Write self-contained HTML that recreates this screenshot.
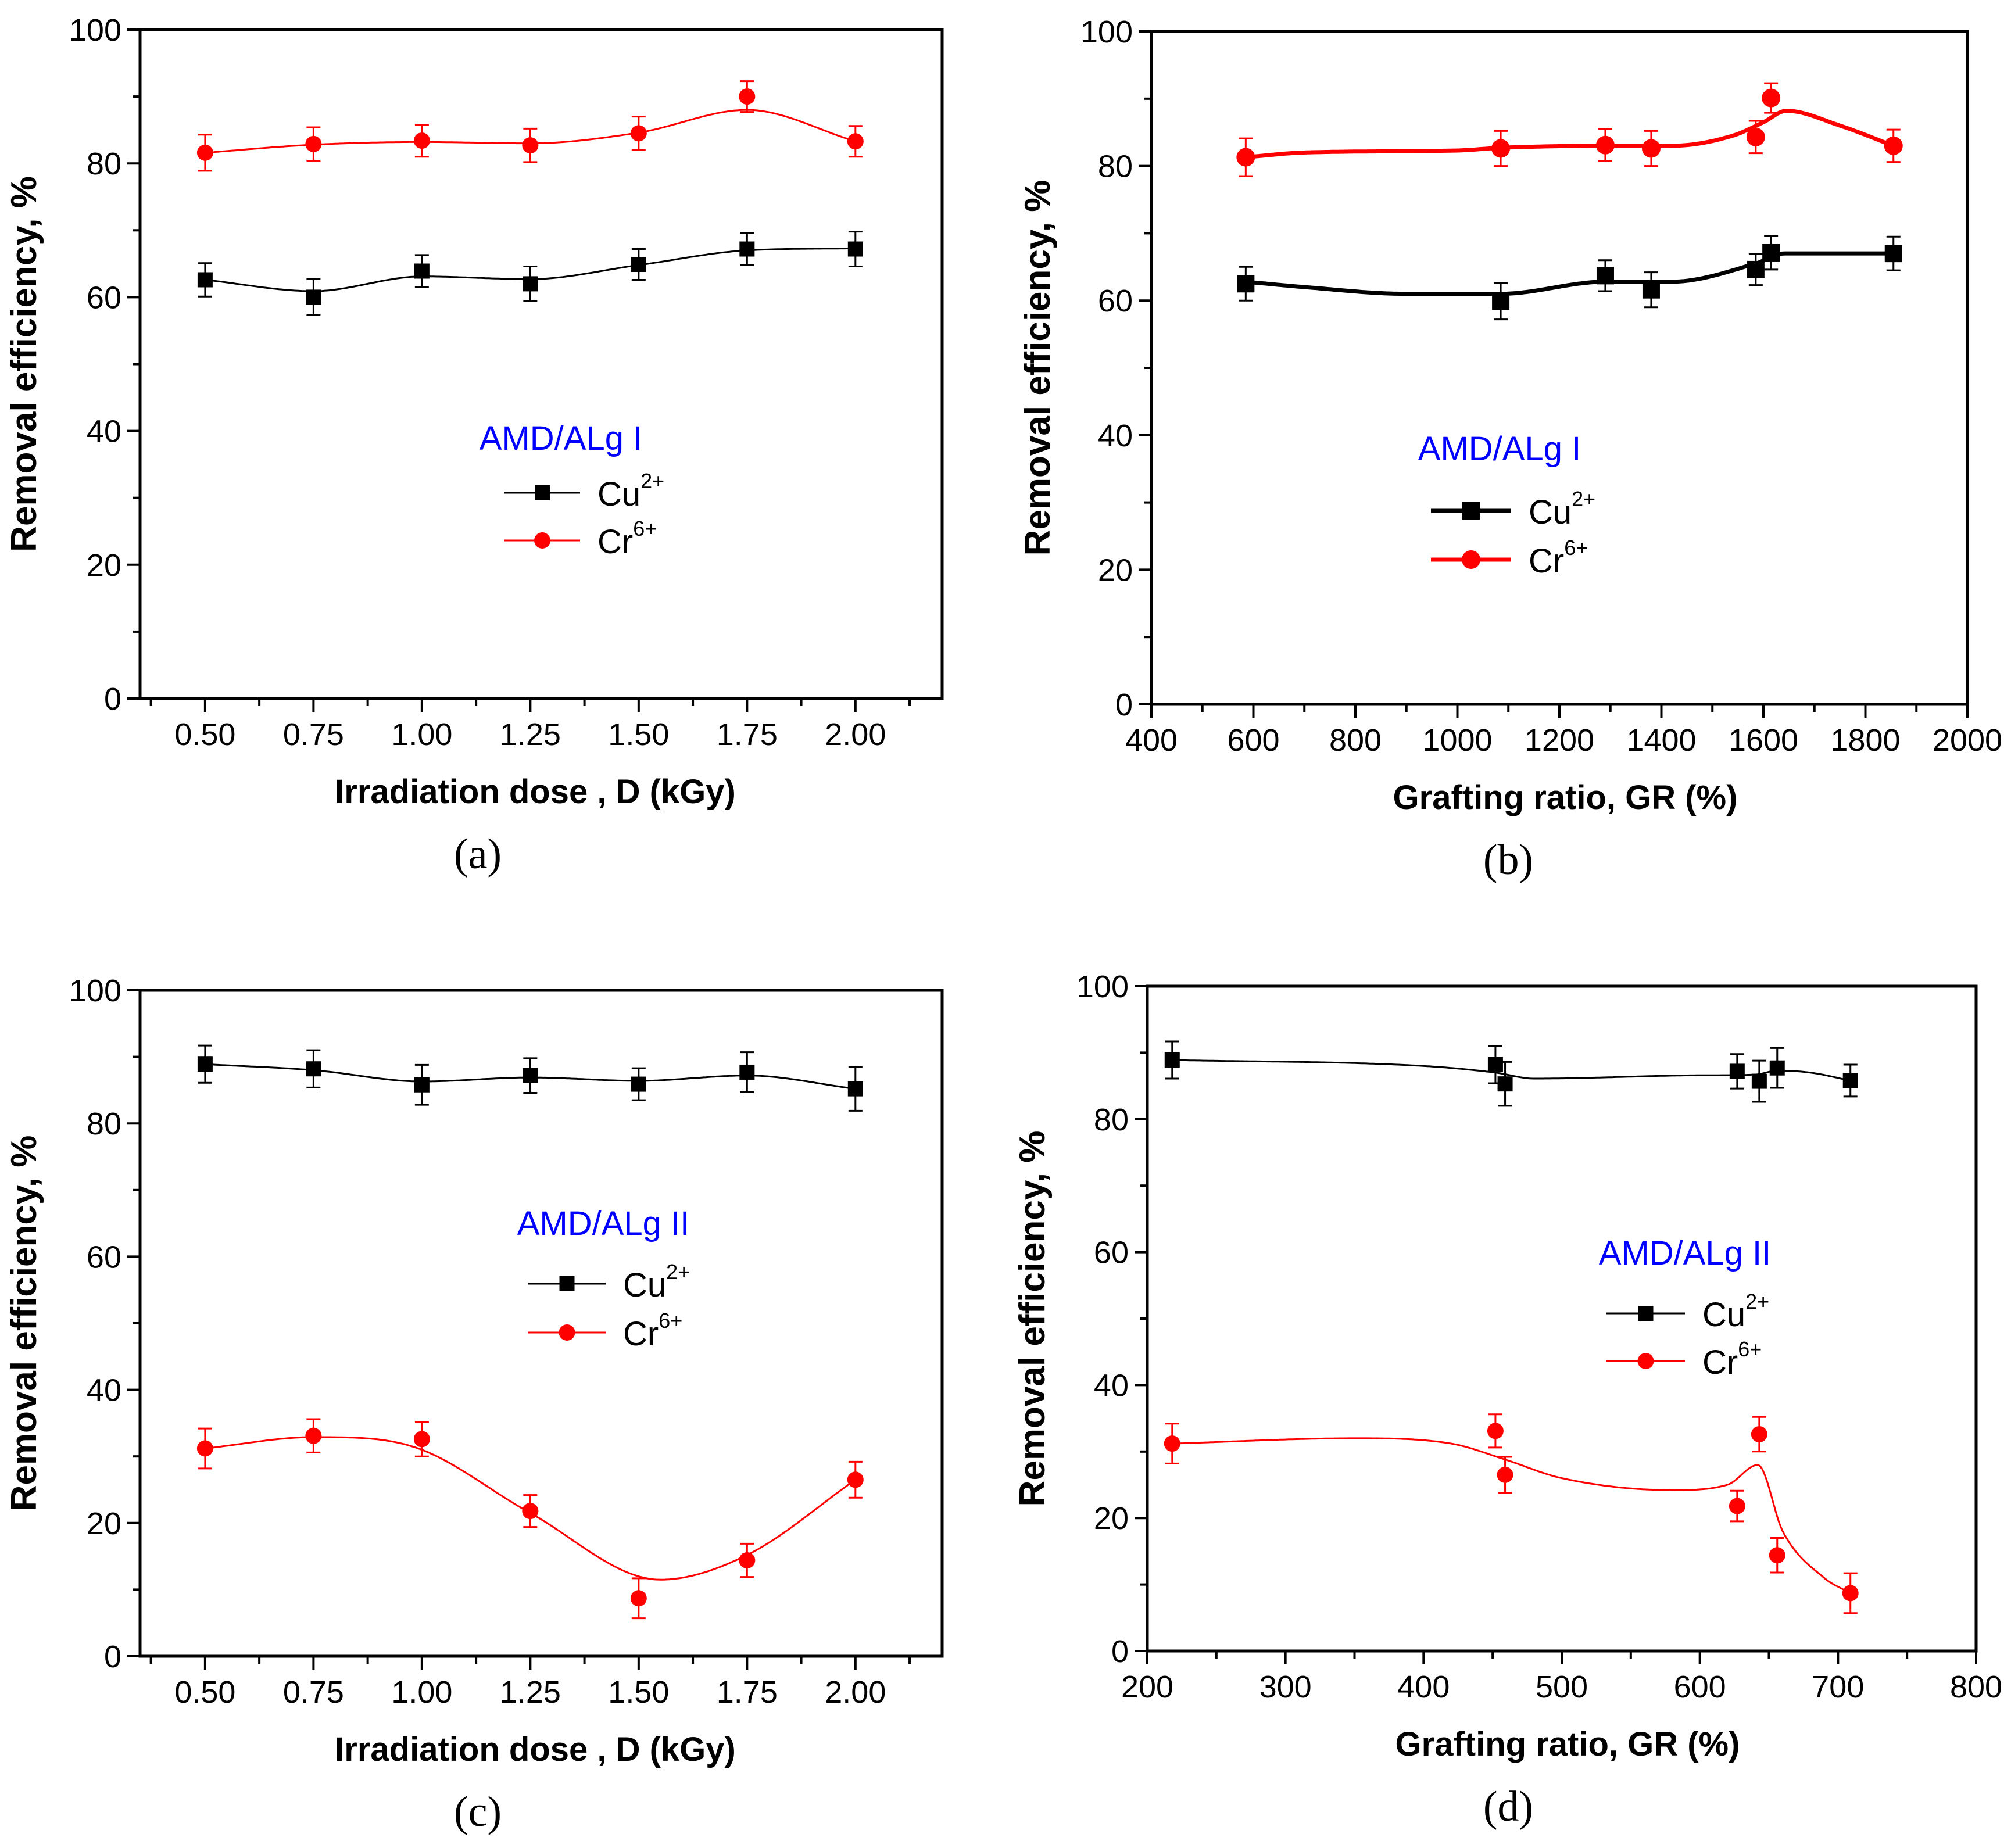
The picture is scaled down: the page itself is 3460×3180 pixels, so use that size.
<!DOCTYPE html>
<html><head><meta charset="utf-8"><style>
html,body{margin:0;padding:0;background:#fff;}
svg{display:block;}
text{font-family:"Liberation Sans",sans-serif;}
</style></head><body>
<svg id="fig" width="3460" height="3180" viewBox="0 0 3460 3180" xmlns="http://www.w3.org/2000/svg"></svg>
<script>
// ---- data: panel a (irradiation dose, AMD/ALg I)
const aX = [0.5,0.75,1.0,1.25,1.5,1.75,2.0];
const aCu = [62.6,60.0,63.9,62.0,64.9,67.2,67.2];
const aCuErr = [2.5,2.7,2.4,2.6,2.3,2.4,2.6];
const aCr = [81.6,82.9,83.4,82.7,84.5,90.0,83.3];
const aCrErr = [2.7,2.5,2.4,2.5,2.5,2.3,2.3];
const aCuFitX = [0.5,0.75,1.0,1.25,1.5,1.75,2.0];
const aCuFit = [62.6,60.9,63.1,62.7,64.8,67.0,67.3];
const aCrFitX = [0.5,0.75,1.0,1.25,1.5,1.75,2.0];
const aCrFit = [81.6,82.8,83.2,83.0,84.6,88.0,83.3];
const aXTicks = ["0.50","0.75","1.00","1.25","1.50","1.75","2.00"];
// ---- panel b (grafting ratio, AMD/ALg I)
const bX = [585,1085,1290,1380,1585,1615,1855];
const bCu = [62.5,59.9,63.7,61.6,64.6,67.1,67.0];
const bCuErr = [2.5,2.7,2.3,2.6,2.3,2.5,2.5];
const bCr = [81.3,82.6,83.1,82.6,84.3,90.1,83.0];
const bCrErr = [2.8,2.6,2.4,2.6,2.4,2.2,2.4];
const bCuFitX = [585,700,900,1085,1290,1420,1585,1640,1855];
const bCuFit = [62.8,62.0,61.0,61.0,62.8,62.8,65.5,67.0,67.0];
const bCrFitX = [585,700,1000,1085,1290,1420,1540,1600,1645,1750,1855];
const bCrFit = [81.3,82.0,82.3,82.7,83.0,83.0,84.5,86.5,88.2,86.0,83.0];
const bXTicks = ["400","600","800","1000","1200","1400","1600","1800","2000"];
// ---- panel c (irradiation dose, AMD/ALg II)
const cX = [0.5,0.75,1.0,1.25,1.5,1.75,2.0];
const cCu = [88.9,88.2,85.8,87.2,85.9,87.7,85.2];
const cCuErr = [2.8,2.8,3.0,2.6,2.4,3.0,3.3];
const cCr = [31.2,33.1,32.6,21.8,8.7,14.4,26.5];
const cCrErr = [3.0,2.5,2.6,2.4,3.0,2.5,2.7];
const cCuFitX = [0.5,0.75,1.0,1.25,1.5,1.75,2.0];
const cCuFit = [88.9,88.0,86.3,86.9,86.4,87.2,85.2];
const cCrFitX = [0.5,0.75,0.85,1.0,1.25,1.55,1.75,2.0];
const cCrFit = [31.2,32.9,32.8,31.0,21.5,11.5,15.2,26.5];
const cXTicks = ["0.50","0.75","1.00","1.25","1.50","1.75","2.00"];
// ---- panel d (grafting ratio, AMD/ALg II)
const dX = [218,452,459,627,643,656,709];
const dCu = [88.9,88.2,85.3,87.2,85.7,87.7,85.8];
const dCuErr = [2.8,2.8,3.3,2.6,3.1,3.0,2.4];
const dCr = [31.2,33.1,26.5,21.8,32.6,14.4,8.7];
const dCrErr = [3.0,2.5,2.7,2.3,2.6,2.6,3.0];
const dCuFitX = [218,400,452,480,600,640,656,680,709];
const dCuFit = [88.9,88.0,87.0,86.1,86.6,86.7,87.3,87.0,85.8];
const dCrFitX = [218,350,420,459,500,580,620,642,660,690,709];
const dCrFit = [31.2,32.0,31.2,28.8,26.0,24.2,25.0,28.0,18.0,11.0,8.7];
const dXTicks = ["200","300","400","500","600","700","800"];
const yTicks = ["0","20","40","60","80","100"];

const NS = "http://www.w3.org/2000/svg";
const fig = document.getElementById('fig');
function mk(tag, attrs, parent){
  const e = document.createElementNS(NS, tag);
  for (const k in attrs) e.setAttribute(k, attrs[k]);
  (parent||fig).appendChild(e);
  return e;
}
function monotone(xs, ys){
  const n = xs.length, d=[], m=new Array(n);
  for(let i=0;i<n-1;i++) d.push((ys[i+1]-ys[i])/(xs[i+1]-xs[i]));
  m[0]=d[0]; m[n-1]=d[n-2];
  for(let i=1;i<n-1;i++) m[i] = (d[i-1]*d[i]<=0)?0:(d[i-1]+d[i])/2;
  for(let i=0;i<n-1;i++){
    if(d[i]===0){m[i]=0;m[i+1]=0;continue;}
    const a=m[i]/d[i], b=m[i+1]/d[i], s=a*a+b*b;
    if(s>9){const t=3/Math.sqrt(s); m[i]=t*a*d[i]; m[i+1]=t*b*d[i];}
  }
  return function(x){
    let i=0; while(i<n-2 && x>xs[i+1]) i++;
    const h=xs[i+1]-xs[i], t=(x-xs[i])/h, t2=t*t, t3=t2*t;
    return (2*t3-3*t2+1)*ys[i]+(t3-2*t2+t)*h*m[i]+(-2*t3+3*t2)*ys[i+1]+(t3-t2)*h*m[i+1];
  };
}

function panel(cfg){
  const g = mk('g',{});
  
  
  const sx = v => cfg.L + (v-cfg.xmin)/(cfg.xmax-cfg.xmin)*(cfg.R-cfg.L);
  const sy = v => cfg.B - v/100*(cfg.B-cfg.T);
  const fr = mk('rect',{x:cfg.L,y:cfg.T,width:cfg.R-cfg.L,height:cfg.B-cfg.T,fill:'none',stroke:'#000','stroke-width':5},g);
  
  
  for(let i=0;i<=10;i++){
    const v=i*10, y=sy(v), major=i%2===0;
    mk('line',{x1:cfg.L-(major?22:12),x2:cfg.L,y1:y,y2:y,stroke:'#000','stroke-width':4},g);
    if(major){
      const t = mk('text',{x:cfg.L-32,y:y+19,'font-size':54,'text-anchor':'end'},g);
      t.textContent = yTicks[i/2];
      
      
    }
  }
  const labs = cfg.xticks;
  for(let i=0;i<labs.length;i++){
    const v = parseFloat(labs[i]), x = sx(v);
    mk('line',{x1:x,x2:x,y1:cfg.B,y2:cfg.B+23,stroke:'#000','stroke-width':4},g);
    const t = mk('text',{x:x,y:cfg.B+80,'font-size':54,'text-anchor':'middle'},g);
    t.textContent = labs[i];
    
    
  }
  for(let v=cfg.minor0; v<cfg.xmax+1e-9; v+=cfg.minorStep){
    const x=sx(v);
    mk('line',{x1:x,x2:x,y1:cfg.B,y2:cfg.B+13,stroke:'#000','stroke-width':4},g);
  }
  const yt = mk('text',{x:0,y:0,'font-size':62,'font-weight':'bold','text-anchor':'middle',transform:`translate(${cfg.ytx},${(cfg.T+cfg.B)/2}) rotate(-90)`},g);
  yt.textContent='Removal efficiency, %';
  
  
  const xt = mk('text',{x:(cfg.L+cfg.R)/2+(cfg.xtdx||0),y:cfg.B+180,'font-size':58,'font-weight':'bold','text-anchor':'middle'},g);
  xt.textContent=cfg.xtitle;
  
  
  const cap = mk('text',{x:cfg.capX,y:cfg.B+292,'text-anchor':'middle',style:'font-family:"Liberation Serif",serif;font-size:74px'},g);
  cap.textContent=cfg.caption;
  
  
  cfg.series.forEach(s=>{
    const f = monotone(s.fx, s.fy);
    let d='';
    const x0=s.fx[0], x1=s.fx[s.fx.length-1];
    for(let k=0;k<=300;k++){
      const xv = x0+(x1-x0)*k/300;
      d += (k?'L':'M')+sx(xv).toFixed(1)+' '+sy(f(xv)).toFixed(1);
    }
    const p = mk('path',{d:d,fill:'none',stroke:s.color,'stroke-width':cfg.lw,'stroke-linejoin':'round'},g);
    
    
    for(let i=0;i<s.x.length;i++){
      const x=sx(s.x[i]), y=sy(s.y[i]), yt=sy(s.y[i]+s.e[i]), yb=sy(s.y[i]-s.e[i]);
      const eb = mk('path',{d:`M${x} ${yt}L${x} ${yb}M${x-12} ${yt}L${x+12} ${yt}M${x-12} ${yb}L${x+12} ${yb}`,stroke:s.color,'stroke-width':3,fill:'none'},g);
      
      
      let m;
      if(s.shape==='sq') m = mk('rect',{x:x-cfg.ms/2,y:y-cfg.ms/2,width:cfg.ms,height:cfg.ms,fill:s.color},g);
      else m = mk('circle',{cx:x,cy:y,r:cfg.ms/2+1,fill:s.color},g);
      
      
    }
  });
  const lg = cfg.leg;
  const lt = mk('text',{x:lg.tx,y:lg.ty+20,'font-size':58,fill:'#0000ff','text-anchor':'middle'},g);
  lt.textContent = cfg.legTitle;
  
  
  [['Cu','2+','#000','sq',lg.y1,'legend-entry-cu'],['Cr','6+','#ff0000','ci',lg.y2,'legend-entry-cr']].forEach(r=>{
    const eg = mk('g',{},g);
    
    
    mk('line',{x1:lg.x1,x2:lg.x2,y1:r[4],y2:r[4],stroke:r[2],'stroke-width':cfg.lw},eg);
    const cx=(lg.x1+lg.x2)/2;
    if(r[3]==='sq') mk('rect',{x:cx-cfg.ms/2,y:r[4]-cfg.ms/2,width:cfg.ms,height:cfg.ms,fill:r[2]},eg);
    else mk('circle',{cx:cx,cy:r[4],r:cfg.ms/2+1,fill:r[2]},eg);
    const t = mk('text',{x:lg.x2+30,y:r[4]+22,'font-size':58},eg);
    t.textContent=r[0];
    const sp = mk('tspan',{'font-size':36,dy:-30},t);
    sp.textContent=r[1];
  });
}

panel({id:'a',L:241,R:1621,T:51,B:1202,xmin:0.35,xmax:2.2,xticks:aXTicks,minor0:0.375,minorStep:0.25,
  ytx:62,xtitle:'Irradiation dose  , D (kGy)',xtdx:-10,capX:822,caption:'(a)',lw:3,ms:26,legTitle:'AMD/ALg I',
  leg:{tx:965,ty:754,x1:868,x2:998,y1:848,y2:930},
  series:[{name:'cu',x:aX,y:aCu,e:aCuErr,fx:aCuFitX,fy:aCuFit,color:'#000',shape:'sq'},
          {name:'cr',x:aX,y:aCr,e:aCrErr,fx:aCrFitX,fy:aCrFit,color:'#ff0000',shape:'ci'}]});
panel({id:'b',L:1981,R:3385,T:54,B:1212,xmin:400,xmax:2000,xticks:bXTicks,minor0:500,minorStep:200,
  ytx:1806,xtitle:'Grafting ratio, GR (%)',xtdx:10,capX:2595,caption:'(b)',lw:7,ms:30,legTitle:'AMD/ALg I',
  leg:{tx:2580,ty:772,x1:2462,x2:2600,y1:879,y2:963},
  series:[{name:'cu',x:bX,y:bCu,e:bCuErr,fx:bCuFitX,fy:bCuFit,color:'#000',shape:'sq'},
          {name:'cr',x:bX,y:bCr,e:bCrErr,fx:bCrFitX,fy:bCrFit,color:'#ff0000',shape:'ci'}]});
panel({id:'c',L:241,R:1621,T:1704,B:2850,xmin:0.35,xmax:2.2,xticks:cXTicks,minor0:0.375,minorStep:0.25,
  ytx:62,xtitle:'Irradiation dose  , D (kGy)',xtdx:-10,capX:822,caption:'(c)',lw:3,ms:26,legTitle:'AMD/ALg II',
  leg:{tx:1038,ty:2105,x1:909,x2:1042,y1:2209,y2:2293},
  series:[{name:'cu',x:cX,y:cCu,e:cCuErr,fx:cCuFitX,fy:cCuFit,color:'#000',shape:'sq'},
          {name:'cr',x:cX,y:cCr,e:cCrErr,fx:cCrFitX,fy:cCrFit,color:'#ff0000',shape:'ci'}]});
panel({id:'d',L:1974,R:3400,T:1697,B:2841,xmin:200,xmax:800,xticks:dXTicks,minor0:250,minorStep:100,
  ytx:1797,xtitle:'Grafting ratio, GR (%)',xtdx:10,capX:2595,caption:'(d)',lw:3,ms:26,legTitle:'AMD/ALg  II',
  leg:{tx:2899,ty:2156,x1:2764,x2:2899,y1:2260,y2:2342},
  series:[{name:'cu',x:dX,y:dCu,e:dCuErr,fx:dCuFitX,fy:dCuFit,color:'#000',shape:'sq'},
          {name:'cr',x:dX,y:dCr,e:dCrErr,fx:dCrFitX,fy:dCrFit,color:'#ff0000',shape:'ci'}]});
</script>
</body></html>
